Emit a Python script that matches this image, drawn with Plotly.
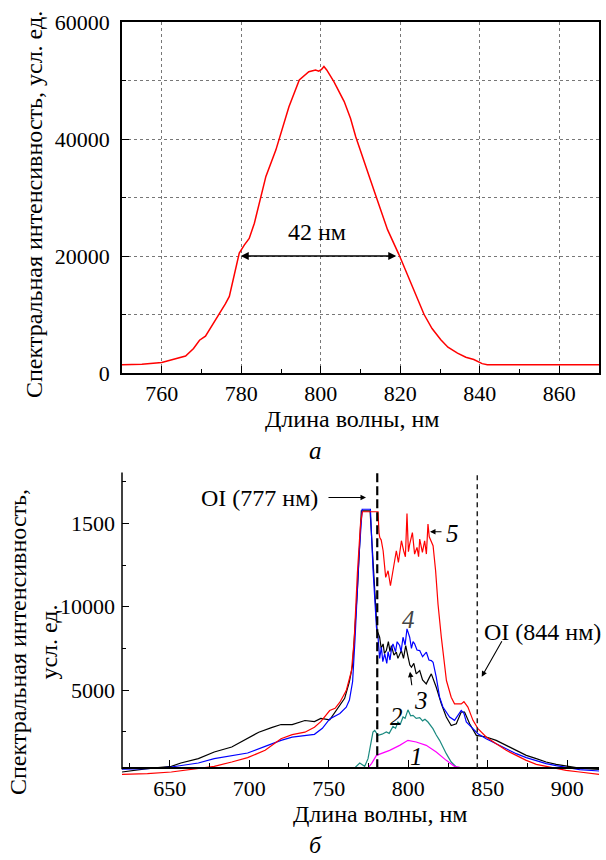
import plotly.graph_objects as go

# ---------------- data: panel (а) ----------------
wl_a = [750, 755, 760, 763, 766, 768, 769.5, 771, 773.6, 776, 777, 778.2, 779.5, 780.8, 782, 783.3,
        784.5, 786.2, 788.7, 790.5, 792, 794.6, 796, 797, 798.7, 799.5, 800.2, 800.8, 801.5, 803.3,
        805.9, 807.5, 808.8, 810.9, 812.5, 814.2, 816.8, 819.7, 822.6, 824, 826, 828, 830.2, 832,
        834.4, 836.5, 838.5, 840.6, 841.9, 850, 860, 870]
int_a = [1420, 1500, 1800, 2300, 2900, 4200, 5600, 6300, 9100, 11800, 13100, 16500, 20500, 21900,
         23000, 25600, 29000, 33600, 38100, 42000, 45500, 50100, 51000, 51500, 51800, 51600, 51900,
         52400, 51800, 49800, 46400, 43500, 40400, 36400, 33000, 29600, 24500, 20200, 15400, 13000,
         10000, 7600, 5700, 4400, 3400, 2700, 2300, 1600, 1420, 1400, 1420, 1420]

# ---------------- data: panel (б) ----------------
wl_1 = [620, 774.7, 777, 780, 788.3, 794.6, 799.8, 805, 811.3, 817.6, 823.9, 829.1, 834.4, 920]
int_1 = [320, 320, 600, 1080, 1380, 1680, 1980, 1880, 1680, 1280, 780, 420, 320, 320]

wl_2 = [620, 766.3, 769.5, 772.6, 774.7, 777.8, 778.9, 781, 783.5, 786.2, 788, 790.4, 792, 793.5,
        795, 796.7, 798, 799.8, 801.5, 803, 805, 807.2, 809, 810.5, 812.4, 815.5, 817.6, 819.7,
        823.9, 827, 830.2, 835, 920]
int_2 = [320, 320, 620, 420, 880, 2480, 2580, 2280, 2350, 2480, 2400, 2820, 2700, 3080, 2950, 3380,
         3300, 3810, 3450, 3480, 3300, 3340, 3150, 3250, 3080, 2680, 2300, 1980, 1180, 680, 380,
         320, 320]

wl_3 = [620, 636, 651, 657, 668, 678, 689, 699, 706, 714, 720, 727, 735, 741, 745, 750.6, 755, 760,
        763, 765, 768, 770.5, 776, 778, 779.5, 780.4, 782, 783, 784.2, 785, 786.2, 787.5, 788.5,
        789.4, 791, 792.5, 793.5, 794.6, 795.7, 797, 798.4, 799.9, 801, 802, 803.5, 805, 807.2,
        809, 811.3, 813, 814.5, 817.6, 820.8, 823.9, 827, 830.2, 833.3, 835.4, 838.6, 842.8, 849,
        855.3, 861.6, 867.9, 874.2, 880.5, 886.7, 893, 899.3, 905.6, 911.9, 920]
int_3 = [80, 280, 420, 620, 880, 1280, 1580, 2080, 2470, 2740, 2930, 2920, 3170, 3110, 3300, 3210,
         3800, 4500, 5500, 6500, 11000, 15750, 15750, 12500, 9500, 8570, 8170, 7500, 7770, 7200,
         7370, 7900, 7300, 7670, 7100, 7270, 6900, 7170, 7370, 6900, 7670, 6970, 6500, 6370, 6600,
         5970, 6170, 5600, 5370, 5700, 5970, 5170, 4170, 3380, 2870, 2980, 3680, 3680, 2980, 2280,
         2180, 1980, 1680, 1380, 1080, 880, 680, 540, 420, 340, 280, 240]

wl_4 = [620, 636, 651, 668, 678, 689, 699, 710, 720, 727, 735, 741, 746, 750.6, 757, 761, 763, 765,
        766.5, 769, 771, 776.2, 777.9, 780, 781, 782, 783.1, 784, 785.2, 786.5, 787.3, 788.5, 789.5,
        790.4, 792, 793, 794.6, 795.5, 796.7, 798, 799.2, 800.9, 802, 803, 804, 805.5, 807.2, 809,
        811.4, 813, 814.5, 815.6, 817.6, 819.7, 821.8, 826, 829.1, 833.3, 835, 836.5, 838.6, 843.8,
        849, 855.3, 861.6, 867.9, 874.2, 880.5, 886.7, 893, 899.3, 907.7, 920]
int_4 = [250, 280, 380, 620, 880, 1080, 1220, 1620, 1980, 2170, 2280, 2340, 2700, 3270, 3590, 3970,
         4400, 5500, 8000, 13000, 15850, 15850, 12160, 8770, 8170, 6900, 7570, 6700, 7170, 6600,
         7300, 6800, 7500, 7770, 7300, 7900, 7670, 7300, 8170, 7700, 8670, 8170, 7500, 7900, 7770,
         7400, 7370, 7000, 7270, 6800, 6770, 6670, 5770, 4570, 3980, 3380, 3180, 3780, 3600, 3080,
         2880, 2380, 2080, 1780, 1480, 1180, 940, 740, 580, 460, 340, 220, 140]

wl_5 = [620, 636, 651, 668, 678, 689, 699, 710, 716, 720, 727, 735, 741, 745, 750.6, 754, 757, 761,
        764.3, 766, 768, 770, 771.2, 781, 781.6, 782.1, 783, 784.2, 785.8, 787.3, 788.8, 790.4,
        791.5, 792.5, 793.8, 795, 795.7, 797.1, 798.2, 799.2, 800.1, 800.9, 802.6, 804, 805.5,
        806.5, 807.2, 808.9, 810.3, 811.4, 812.4, 813.2, 814.1, 815.6, 817.2, 818.7, 820.8, 822.9,
        824, 827, 829.1, 833.3, 835, 837.5, 840.7, 843.8, 849, 855.3, 861.6, 867.9, 874.2, 880.5,
        886.7, 893, 899.3, 907.7, 916, 920]
int_5 = [-60, -20, 80, 280, 420, 680, 940, 1380, 1780, 2080, 2320, 2470, 2770, 3100, 3770, 3900,
         4270, 4970, 6170, 8000, 12000, 15000, 15700, 15700, 14450, 14150, 14000, 13360, 11760,
         12160, 11260, 12260, 12800, 13360, 12660, 13500, 13960, 13360, 13000, 15590, 13300, 13760,
         14450, 13160, 13560, 13000, 14060, 13260, 13960, 13160, 14960, 14200, 13960, 13660, 12160,
         10160, 8160, 6170, 5570, 4570, 4170, 4170, 4300, 3980, 3180, 2680, 2180, 1780, 1380,
         1080, 780, 540, 420, 280, 180, 80, -20, -60]

x_ticks_a = [760, 780, 800, 820, 840, 860]
y_ticks_a = [0, 20000, 40000, 60000]
x_ticks_b = [650, 700, 750, 800, 850, 900]
y_ticks_b = [5000, 10000, 15000]
y_ticklabels_b = ["5000", "10000", "1500"]
oi_lines = [780.5, 843.4]

W, H = 606, 860
FONT = "Liberation Serif, Times New Roman, DejaVu Serif, serif"
FS = 22
TS = 24


def px(xp):
    return xp / W


def py(yp):
    return 1 - yp / H


fig = go.Figure()
fig.add_trace(go.Scatter(x=wl_a, y=int_a, mode="lines", line=dict(color="#ff0000", width=1.5),
                         xaxis="x", yaxis="y", showlegend=False))

series = [(wl_3, int_3, "#000000"), (wl_4, int_4, "#0000ff"), (wl_5, int_5, "#ff0000"),
          (wl_2, int_2, "#1b8a80"), (wl_1, int_1, "#ff00ff")]
for xs, ys, c in series:
    fig.add_trace(go.Scatter(x=xs, y=ys, mode="lines", line=dict(color=c, width=1.2),
                             xaxis="x2", yaxis="y2", showlegend=False))

tickfont = dict(family=FONT, size=FS, color="black")

# bottom panel y geometry
Y2_MIN, Y2_MAX = -520, 18050
Y2_TOP_PX, Y2_BOT_PX = 472.6, 782.0
BASE = 300
base_px = Y2_BOT_PX - (BASE - Y2_MIN) / (Y2_MAX - Y2_MIN) * (Y2_BOT_PX - Y2_TOP_PX)

fig.update_layout(
    width=W, height=H, margin=dict(l=0, r=0, t=0, b=0),
    paper_bgcolor="white", plot_bgcolor="white", template="none",
    font=dict(family=FONT, color="black"),
    xaxis=dict(domain=[px(122), px(599)], range=[750, 870], tickvals=x_ticks_a,
               ticks="inside", ticklen=7, tickwidth=1.2, tickcolor="black",
               minor=dict(tickvals=[770, 790, 810, 830, 850], ticks="inside", ticklen=4,
                          tickcolor="black", showgrid=False),
               showgrid=True, gridcolor="#777777", griddash="dot", gridwidth=1,
               showline=True, linecolor="black", linewidth=1.5, mirror=True,
               zeroline=False, tickfont=tickfont, anchor="y", automargin=False),
    yaxis=dict(domain=[py(373), py(22)], range=[0, 60000], tickvals=y_ticks_a,
               ticktext=[str(v) for v in y_ticks_a],
               ticks="inside", ticklen=7, tickwidth=1.2, tickcolor="black",
               minor=dict(tickvals=[10000, 30000, 50000], ticks="inside", ticklen=4,
                          tickcolor="black", showgrid=True, gridcolor="#777777",
                          griddash="dot", gridwidth=1),
               showgrid=True, gridcolor="#777777", griddash="dot", gridwidth=1,
               showline=True, linecolor="black", linewidth=1.5, mirror=True,
               zeroline=False, tickfont=tickfont, anchor="x", automargin=False,
               ticklabelstandoff=6),
    xaxis2=dict(domain=[px(122), px(599.1)], range=[620, 920], tickvals=x_ticks_b,
                ticks="inside", ticklen=7, tickwidth=1.2, tickcolor="black",
                minor=dict(tickvals=[625, 675, 725, 775, 825, 875], ticks="inside", ticklen=4,
                           tickcolor="black", showgrid=False),
                showgrid=False, showline=True, linecolor="black", linewidth=2,
                zeroline=False, tickfont=tickfont, anchor="free", position=py(base_px),
                automargin=False),
    yaxis2=dict(domain=[py(Y2_BOT_PX), py(Y2_TOP_PX)], range=[Y2_MIN, Y2_MAX],
                tickvals=y_ticks_b, ticktext=y_ticklabels_b,
                ticks="inside", ticklen=7, tickwidth=1.2, tickcolor="black",
                minor=dict(tickvals=[2500, 7500, 12500, 17500], ticks="inside", ticklen=4,
                           tickcolor="black", showgrid=False),
                showgrid=False, showline=False, zeroline=False, tickfont=tickfont,
                anchor="x2", automargin=False, ticklabelstandoff=6),
)

shapes = [
    dict(type="line", xref="paper", yref="paper", x0=px(122), x1=px(122),
         y0=py(base_px + 1), y1=py(Y2_TOP_PX), line=dict(color="black", width=1.5)),
    dict(type="line", xref="x2", yref="y2", x0=oi_lines[0], x1=oi_lines[0], y0=BASE, y1=Y2_MAX,
         line=dict(color="black", width=2.2, dash="9px,4px")),
    dict(type="line", xref="x2", yref="y2", x0=oi_lines[1], x1=oi_lines[1], y0=BASE, y1=Y2_MAX,
         line=dict(color="#222222", width=1.5, dash="5px,4px")),
]
fig.update_layout(shapes=shapes)

ann = []


def txt(x, y, t, size=TS, italic=False, angle=0, color="black"):
    if italic:
        t = "<i>" + t + "</i>"
    ann.append(dict(x=px(x), y=py(y), xref="paper", yref="paper", text=t, showarrow=False,
                    xanchor="center", yanchor="middle", textangle=angle,
                    font=dict(family=FONT, size=size, color=color)))


txt(34, 205, "Спектральная интенсивность, усл. ед.", angle=-90)
txt(352, 419, "Длина волны, нм")
txt(317, 232, "42 нм")
txt(315, 450, "а", size=25, italic=True)

txt(33, 642, "Спектральная интенсивность,<br>усл. ед.", angle=-90)
txt(380, 814, "Длина волны, нм")
txt(315, 845, "б", size=24, italic=True)
txt(259, 498, "OI (777 нм)")
txt(542, 632, "OI (844 нм)")
txt(452, 533, "5", size=25, italic=True)
txt(408, 619, "4", size=25, italic=True, color="#444444")
txt(421, 700, "3", size=25, italic=True)
txt(396, 716, "2", size=25, italic=True)
txt(416, 756, "1", size=25, italic=True)

# double arrow (FWHM)
ann.append(dict(x=819, y=20000, ax=779.5, ay=20000, xref="x", yref="y", axref="x", ayref="y",
                text="", showarrow=True, arrowside="end+start", arrowhead=2, arrowsize=1,
                arrowwidth=1.6, arrowcolor="black"))


def arrow(xd, yd, axp, ayp):
    ann.append(dict(x=xd, y=yd, xref="x2", yref="y2", ax=axp, ay=ayp, text="", showarrow=True,
                    arrowhead=2, arrowsize=1, arrowwidth=1.1, arrowcolor="black"))


def d2(xp, yp):
    xd = 620 + (xp - 122) / (599.1 - 122) * 300
    yd = Y2_MIN + (Y2_BOT_PX - yp) / (Y2_BOT_PX - Y2_TOP_PX) * (Y2_MAX - Y2_MIN)
    return xd, yd


xd, yd = d2(366, 497.5)
arrow(xd, yd, -39, 0)
xd, yd = d2(481.7, 676.7)
arrow(xd, yd, 21, -37)
xd, yd = d2(430, 531.7)
arrow(xd, yd, 13, 0)
xd, yd = d2(410, 671.7)
arrow(xd, yd, 2, 15)

fig.update_layout(annotations=ann)
fig.write_html("out.html", config={"displayModeBar": False},
               post_script="document.body.style.margin='0';document.body.style.overflow='hidden';")
